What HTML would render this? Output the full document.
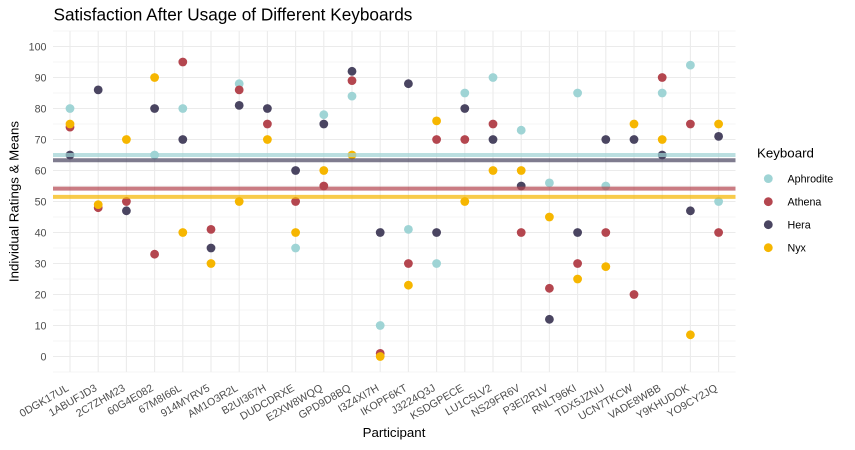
<!DOCTYPE html>
<html>
<head>
<meta charset="utf-8">
<style>
html,body{margin:0;padding:0;background:#fff;}
svg{display:block;}
text{font-family:"Liberation Sans",Arial,sans-serif;}
</style>
</head>
<body>
<svg width="855" height="450" viewBox="0 0 855 450" xmlns="http://www.w3.org/2000/svg">
<rect width="855" height="450" fill="#fff"/>
<!-- minor grid -->
<g stroke="#ebebeb" stroke-width="0.55">
<line x1="53" x2="735.5" y1="372" y2="372"/>
<line x1="53" x2="735.5" y1="341" y2="341"/>
<line x1="53" x2="735.5" y1="310" y2="310"/>
<line x1="53" x2="735.5" y1="279" y2="279"/>
<line x1="53" x2="735.5" y1="248" y2="248"/>
<line x1="53" x2="735.5" y1="217" y2="217"/>
<line x1="53" x2="735.5" y1="186" y2="186"/>
<line x1="53" x2="735.5" y1="155" y2="155"/>
<line x1="53" x2="735.5" y1="124" y2="124"/>
<line x1="53" x2="735.5" y1="93" y2="93"/>
<line x1="53" x2="735.5" y1="62" y2="62"/>
<line x1="53" x2="735.5" y1="31" y2="31"/>
</g>
<!-- major grid -->
<g stroke="#ebebeb" stroke-width="1.1">
<line x1="53" x2="735.5" y1="356.5" y2="356.5"/>
<line x1="53" x2="735.5" y1="325.5" y2="325.5"/>
<line x1="53" x2="735.5" y1="294.5" y2="294.5"/>
<line x1="53" x2="735.5" y1="263.5" y2="263.5"/>
<line x1="53" x2="735.5" y1="232.5" y2="232.5"/>
<line x1="53" x2="735.5" y1="201.5" y2="201.5"/>
<line x1="53" x2="735.5" y1="170.5" y2="170.5"/>
<line x1="53" x2="735.5" y1="139.5" y2="139.5"/>
<line x1="53" x2="735.5" y1="108.5" y2="108.5"/>
<line x1="53" x2="735.5" y1="77.5" y2="77.5"/>
<line x1="53" x2="735.5" y1="46.5" y2="46.5"/>
<line y1="31" y2="372" x1="70" x2="70"/>
<line y1="31" y2="372" x1="98.2" x2="98.2"/>
<line y1="31" y2="372" x1="126.4" x2="126.4"/>
<line y1="31" y2="372" x1="154.6" x2="154.6"/>
<line y1="31" y2="372" x1="182.8" x2="182.8"/>
<line y1="31" y2="372" x1="211" x2="211"/>
<line y1="31" y2="372" x1="239.2" x2="239.2"/>
<line y1="31" y2="372" x1="267.4" x2="267.4"/>
<line y1="31" y2="372" x1="295.6" x2="295.6"/>
<line y1="31" y2="372" x1="323.8" x2="323.8"/>
<line y1="31" y2="372" x1="352" x2="352"/>
<line y1="31" y2="372" x1="380.2" x2="380.2"/>
<line y1="31" y2="372" x1="408.4" x2="408.4"/>
<line y1="31" y2="372" x1="436.6" x2="436.6"/>
<line y1="31" y2="372" x1="464.8" x2="464.8"/>
<line y1="31" y2="372" x1="493" x2="493"/>
<line y1="31" y2="372" x1="521.2" x2="521.2"/>
<line y1="31" y2="372" x1="549.4" x2="549.4"/>
<line y1="31" y2="372" x1="577.6" x2="577.6"/>
<line y1="31" y2="372" x1="605.8" x2="605.8"/>
<line y1="31" y2="372" x1="634" x2="634"/>
<line y1="31" y2="372" x1="662.2" x2="662.2"/>
<line y1="31" y2="372" x1="690.4" x2="690.4"/>
<line y1="31" y2="372" x1="718.6" x2="718.6"/>
</g>

<!-- Aphrodite -->
<g fill="#9fd4d5">
<circle cx="70" cy="108.5" r="4.4"/>
<circle cx="154.6" cy="155" r="4.4"/>
<circle cx="182.8" cy="108.5" r="4.4"/>
<circle cx="239.2" cy="83.7" r="4.4"/>
<circle cx="295.6" cy="248" r="4.4"/>
<circle cx="323.8" cy="114.7" r="4.4"/>
<circle cx="352" cy="96.1" r="4.4"/>
<circle cx="380.2" cy="325.5" r="4.4"/>
<circle cx="408.4" cy="229.4" r="4.4"/>
<circle cx="436.6" cy="263.5" r="4.4"/>
<circle cx="464.8" cy="93" r="4.4"/>
<circle cx="493" cy="77.5" r="4.4"/>
<circle cx="521.2" cy="130.2" r="4.4"/>
<circle cx="549.4" cy="182.9" r="4.4"/>
<circle cx="577.6" cy="93" r="4.4"/>
<circle cx="605.8" cy="186" r="4.4"/>
<circle cx="662.2" cy="93" r="4.4"/>
<circle cx="690.4" cy="65.1" r="4.4"/>
<circle cx="718.6" cy="201.5" r="4.4"/>
</g>
<!-- Athena -->
<g fill="#b4464f">
<circle cx="70" cy="127.1" r="4.4"/>
<circle cx="98.2" cy="207.7" r="4.4"/>
<circle cx="126.4" cy="201.5" r="4.4"/>
<circle cx="154.6" cy="254.2" r="4.4"/>
<circle cx="182.8" cy="62" r="4.4"/>
<circle cx="211" cy="229.4" r="4.4"/>
<circle cx="239.2" cy="89.9" r="4.4"/>
<circle cx="267.4" cy="124" r="4.4"/>
<circle cx="295.6" cy="201.5" r="4.4"/>
<circle cx="323.8" cy="186" r="4.4"/>
<circle cx="352" cy="80.6" r="4.4"/>
<circle cx="380.2" cy="353.4" r="4.4"/>
<circle cx="408.4" cy="263.5" r="4.4"/>
<circle cx="436.6" cy="139.5" r="4.4"/>
<circle cx="464.8" cy="139.5" r="4.4"/>
<circle cx="493" cy="124" r="4.4"/>
<circle cx="521.2" cy="232.5" r="4.4"/>
<circle cx="549.4" cy="288.3" r="4.4"/>
<circle cx="577.6" cy="263.5" r="4.4"/>
<circle cx="605.8" cy="232.5" r="4.4"/>
<circle cx="634" cy="294.5" r="4.4"/>
<circle cx="662.2" cy="77.5" r="4.4"/>
<circle cx="690.4" cy="124" r="4.4"/>
<circle cx="718.6" cy="232.5" r="4.4"/>
</g>
<!-- Hera -->
<g fill="#4a4561">
<circle cx="70" cy="155" r="4.4"/>
<circle cx="98.2" cy="89.9" r="4.4"/>
<circle cx="126.4" cy="210.8" r="4.4"/>
<circle cx="154.6" cy="108.5" r="4.4"/>
<circle cx="182.8" cy="139.5" r="4.4"/>
<circle cx="211" cy="248" r="4.4"/>
<circle cx="239.2" cy="105.4" r="4.4"/>
<circle cx="267.4" cy="108.5" r="4.4"/>
<circle cx="295.6" cy="170.5" r="4.4"/>
<circle cx="323.8" cy="124" r="4.4"/>
<circle cx="352" cy="71.3" r="4.4"/>
<circle cx="380.2" cy="232.5" r="4.4"/>
<circle cx="408.4" cy="83.7" r="4.4"/>
<circle cx="436.6" cy="232.5" r="4.4"/>
<circle cx="464.8" cy="108.5" r="4.4"/>
<circle cx="493" cy="139.5" r="4.4"/>
<circle cx="521.2" cy="186" r="4.4"/>
<circle cx="549.4" cy="319.3" r="4.4"/>
<circle cx="577.6" cy="232.5" r="4.4"/>
<circle cx="605.8" cy="139.5" r="4.4"/>
<circle cx="634" cy="139.5" r="4.4"/>
<circle cx="662.2" cy="155" r="4.4"/>
<circle cx="690.4" cy="210.8" r="4.4"/>
<circle cx="718.6" cy="136.4" r="4.4"/>
</g>
<!-- Nyx -->
<g fill="#f6b600">
<circle cx="70" cy="124" r="4.4"/>
<circle cx="98.2" cy="204.6" r="4.4"/>
<circle cx="126.4" cy="139.5" r="4.4"/>
<circle cx="154.6" cy="77.5" r="4.4"/>
<circle cx="182.8" cy="232.5" r="4.4"/>
<circle cx="211" cy="263.5" r="4.4"/>
<circle cx="239.2" cy="201.5" r="4.4"/>
<circle cx="267.4" cy="139.5" r="4.4"/>
<circle cx="295.6" cy="232.5" r="4.4"/>
<circle cx="323.8" cy="170.5" r="4.4"/>
<circle cx="352" cy="155" r="4.4"/>
<circle cx="380.2" cy="356.5" r="4.4"/>
<circle cx="408.4" cy="285.2" r="4.4"/>
<circle cx="436.6" cy="120.9" r="4.4"/>
<circle cx="464.8" cy="201.5" r="4.4"/>
<circle cx="493" cy="170.5" r="4.4"/>
<circle cx="521.2" cy="170.5" r="4.4"/>
<circle cx="549.4" cy="217" r="4.4"/>
<circle cx="577.6" cy="279" r="4.4"/>
<circle cx="605.8" cy="266.6" r="4.4"/>
<circle cx="634" cy="124" r="4.4"/>
<circle cx="662.2" cy="139.5" r="4.4"/>
<circle cx="690.4" cy="334.8" r="4.4"/>
<circle cx="718.6" cy="124" r="4.4"/>
</g>

<!-- mean lines -->
<g stroke-width="4" opacity="0.7">
<line x1="53" x2="735.5" y1="155" y2="155" stroke="#9fd4d5"/>
<line x1="53" x2="735.5" y1="160.3" y2="160.3" stroke="#4a4561"/>
<line x1="53" x2="735.5" y1="188.6" y2="188.6" stroke="#b4464f"/>
<line x1="53" x2="735.5" y1="196.9" y2="196.9" stroke="#f6b600"/>
</g>

<!-- y tick labels -->
<g font-size="10.7" fill="#4d4d4d" text-anchor="end">
<text x="46.5" y="360.3">0</text>
<text x="46.5" y="329.3">10</text>
<text x="46.5" y="298.3">20</text>
<text x="46.5" y="267.3">30</text>
<text x="46.5" y="236.3">40</text>
<text x="46.5" y="205.3">50</text>
<text x="46.5" y="174.3">60</text>
<text x="46.5" y="143.3">70</text>
<text x="46.5" y="112.3">80</text>
<text x="46.5" y="81.3">90</text>
<text x="46.5" y="50.3">100</text>
</g>

<!-- x tick labels -->
<g font-size="10.7" fill="#4d4d4d" text-anchor="end">
<text transform="translate(69.5,390) rotate(-30)">0DGK17UL</text>
<text transform="translate(97.7,390) rotate(-30)">1ABUFJD3</text>
<text transform="translate(125.9,390) rotate(-30)">2C7ZHM23</text>
<text transform="translate(154.1,390) rotate(-30)">60G4E082</text>
<text transform="translate(182.3,390) rotate(-30)">67M8I66L</text>
<text transform="translate(210.5,390) rotate(-30)">914MYRV5</text>
<text transform="translate(238.7,390) rotate(-30)">AM1O3R2L</text>
<text transform="translate(266.9,390) rotate(-30)">B2UI367H</text>
<text transform="translate(295.1,390) rotate(-30)">DUDCDRXE</text>
<text transform="translate(323.3,390) rotate(-30)">E2XW8WQQ</text>
<text transform="translate(351.5,390) rotate(-30)">GPD9D8BQ</text>
<text transform="translate(379.7,390) rotate(-30)">I3Z4XI7H</text>
<text transform="translate(407.9,390) rotate(-30)">IKOPF6KT</text>
<text transform="translate(436.1,390) rotate(-30)">J3224Q3J</text>
<text transform="translate(464.3,390) rotate(-30)">KSDGPECE</text>
<text transform="translate(492.5,390) rotate(-30)">LU1C5LV2</text>
<text transform="translate(520.7,390) rotate(-30)">NS29FR6V</text>
<text transform="translate(548.9,390) rotate(-30)">P3EI2R1V</text>
<text transform="translate(577.1,390) rotate(-30)">RNLT96KI</text>
<text transform="translate(605.3,390) rotate(-30)">TDX5JZNU</text>
<text transform="translate(633.5,390) rotate(-30)">UCN7TKCW</text>
<text transform="translate(661.7,390) rotate(-30)">VADE8WBB</text>
<text transform="translate(689.9,390) rotate(-30)">Y9KHUDOK</text>
<text transform="translate(718.1,390) rotate(-30)">YO9CY2JQ</text>
</g>

<!-- titles -->
<text x="53.5" y="20.7" font-size="17.2" fill="#000">Satisfaction After Usage of Different Keyboards</text>
<text x="394" y="437" font-size="13.3" fill="#000" text-anchor="middle">Participant</text>
<text transform="translate(18.3,201.5) rotate(-90)" font-size="13.3" fill="#000" text-anchor="middle">Individual Ratings &amp; Means</text>

<!-- legend -->
<text x="757" y="157.7" font-size="13.3" fill="#000">Keyboard</text>
<circle cx="768.3" cy="178.6" r="4.4" fill="#9fd4d5"/>
<circle cx="768.3" cy="201.7" r="4.4" fill="#b4464f"/>
<circle cx="768.3" cy="224.7" r="4.4" fill="#4a4561"/>
<circle cx="768.3" cy="247.7" r="4.4" fill="#f6b600"/>
<g font-size="10.7" fill="#000">
<text x="787.5" y="182.6">Aphrodite</text>
<text x="787.5" y="205.6">Athena</text>
<text x="787.5" y="228.6">Hera</text>
<text x="787.5" y="251.6">Nyx</text>
</g>
</svg>
</body>
</html>
